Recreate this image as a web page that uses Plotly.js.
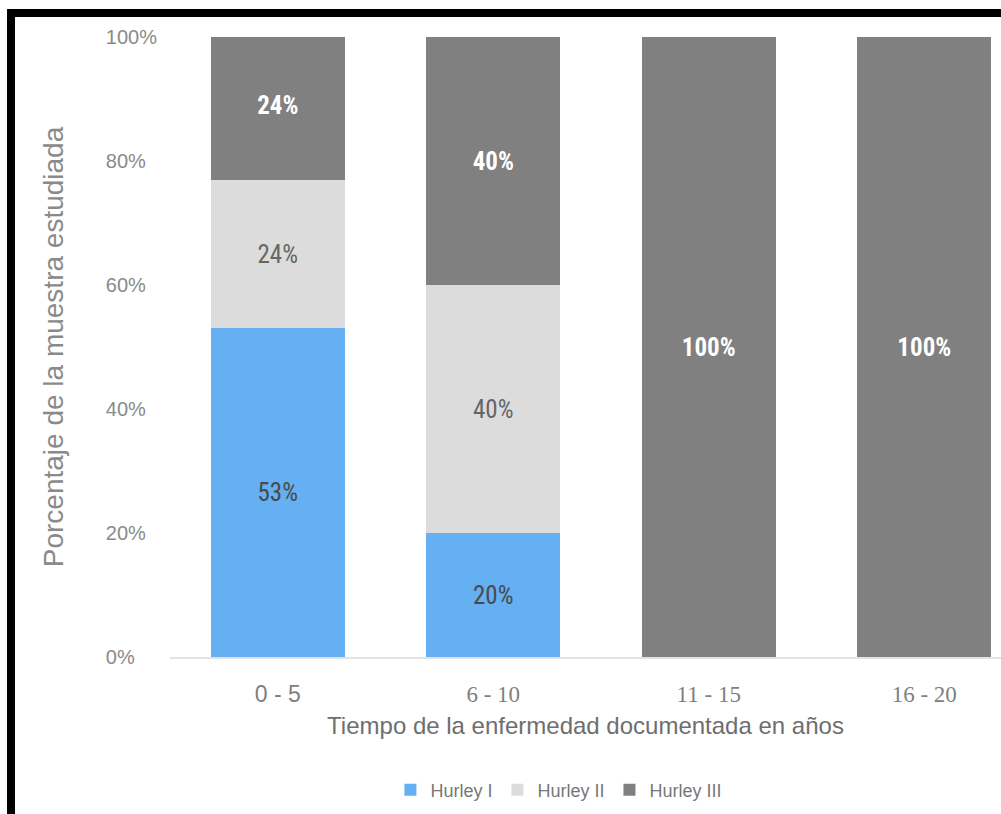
<!DOCTYPE html>
<html>
<head>
<meta charset="utf-8">
<script src="https://cdn.plot.ly/plotly-3.0.1.min.js"></script>
<style>
  html, body { margin: 0; padding: 0; background: #fff; overflow: hidden; }
  #wrap { position: relative; width: 1001px; height: 814px; }
  #chart { position: absolute; left: 0; top: 0; width: 1001px; height: 814px; }
  #frame { position: absolute; left: 7px; top: 9px; width: 1010px; height: 801px;
           border-left: 8px solid #000; border-top: 8px solid #000; border-bottom: 2px solid #555;
           pointer-events: none; box-sizing: content-box; }
</style>
</head>
<body>
<div id="wrap">
  <div id="chart"></div>
  <div id="frame"></div>
</div>
<script>
// ---- data ----
const categories = ["0 - 5", "6 - 10", "11 - 15", "16 - 20"];
const seriesNames = ["Hurley I", "Hurley II", "Hurley III"];
const hurleyI   = [53, 20, null, null];
const hurleyII  = [24, 40, null, null];
const hurleyIII = [24, 40, 100, 100];
const yTickVals = [0, 20, 40, 60, 80, 100];
const yTickText = ["0%", "20%", "40%", "60%", "80%", "100%"];
const xTitle = "Tiempo de la enfermedad documentada en años";
const yTitle = "Porcentaje de la muestra estudiada";

// ---- styles ----
const colors = ["#64b0f2", "#dcdcdc", "#808080"];
const textColors = ["#4a4a4a", "#666666", "#ffffff"];
const labelFont = "'Liberation Sans Narrow', 'Arial Narrow', 'Roboto Condensed', Roboto, sans-serif";
const serif = "Liberation Serif, Times New Roman, serif";
const sans = "'Liberation Sans', Arial, sans-serif";

// first tick label in sans, others in serif (as in the reference)
const xTickText = categories.map((c, i) =>
  i === 0 ? c : '<span style="font-family:' + serif + '">' + c + '</span>');

// left-align y tick labels by padding with figure spaces (digit width)
const maxLen = Math.max(...yTickText.map(t => t.length));
const yTickTextPadded = yTickText.map(t => t + "\u2007".repeat(maxLen - t.length));

const seriesVals = [hurleyI, hurleyII, hurleyIII];
const traces = seriesVals.map((vals, k) => ({
  type: "bar",
  name: seriesNames[k],
  x: categories,
  y: vals,
  marker: { color: colors[k], line: { width: 0 } },
  text: vals.map(v => v == null ? "" : v + "%"),
  texttemplate: "%{text}",
  textposition: "inside",
  insidetextanchor: "middle",
  textangle: 0,
  constraintext: "none",
  textfont: { family: labelFont, size: 25, color: textColors[k], weight: k === 2 ? "bold" : "normal" },
  hoverinfo: "skip"
}));

const layout = {
  width: 1001,
  height: 814,
  margin: { l: 170, r: 0, t: 37, b: 157 },
  paper_bgcolor: "#ffffff",
  plot_bgcolor: "#ffffff",
  barmode: "stack",
  bargap: 0.378,
  showlegend: true,
  legend: {
    orientation: "h",
    x: 0.468, xanchor: "center",
    y: -0.2145, yanchor: "middle",
    traceorder: "normal",
    font: { family: sans, size: 18, color: "#777777" },
    itemwidth: 30
  },
  xaxis: {
    type: "category",
    range: [-0.5, 3.356],
    tickvals: categories,
    ticktext: xTickText,
    showgrid: false,
    zeroline: false,
    showline: true,
    linecolor: "#e3e3e3",
    linewidth: 2,
    ticks: "",
    ticklabelstandoff: 15,
    tickfont: { family: sans, size: 23, color: "#7f7f7f" },
    title: { text: xTitle, font: { family: sans, size: 24, color: "#6e6e6e" }, standoff: 12 },
    automargin: false
  },
  yaxis: {
    range: [0, 100],
    tickvals: yTickVals,
    ticktext: yTickTextPadded,
    showgrid: false,
    zeroline: false,
    showline: false,
    ticks: "",
    ticklabelstandoff: 12,
    tickfont: { family: sans, size: 20, color: "#8a8a8a" },
    title: { text: yTitle, font: { family: sans, size: 28, color: "#8a8a8a" }, standoff: 34 },
    automargin: false
  },
  font: { family: sans }
};

Plotly.newPlot("chart", traces, layout, { staticPlot: true, displayModeBar: false });
</script>
</body>
</html>
